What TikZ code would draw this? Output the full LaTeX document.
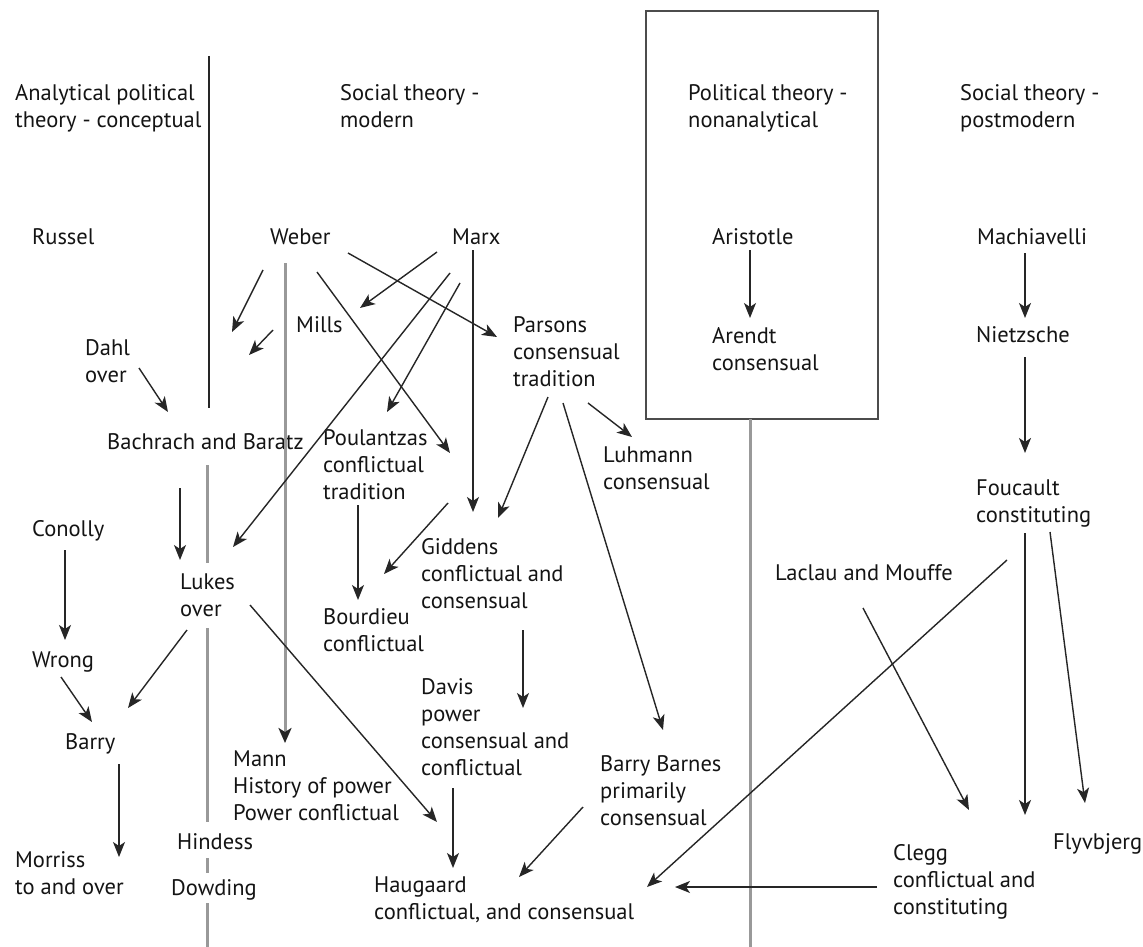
\documentclass[tikz,border=0pt]{standalone}
\usepackage{fontspec}
\setmainfont{PT Sans}
\usetikzlibrary{arrows.meta}
\begin{document}
\begin{tikzpicture}[x=1pt,y=-1pt,
  font=\fontsize{22.5}{27}\selectfont,
  lbl/.style={anchor=north west,inner sep=0pt,align=left,yshift=8.5pt,text=black!92},
  link/.style={line width=1.4pt,black!85,-{Stealth[length=15pt,width=12pt,inset=4pt]}},
  rule/.style={line width=3pt,black!40},
  frame/.style={line width=2pt,black!70}]
\fill[white] (0,0) rectangle (1143,947);
\useasboundingbox (0,0) rectangle (1143,947);

% column headings
\node[lbl] (hA) at (15,93)  {Analytical political\\theory - conceptual};
\node[lbl] (hB) at (340,93) {Social theory -\\modern};
\node[lbl] (hC) at (688,93) {Political theory -\\nonanalytical};
\node[lbl] (hD) at (960,93) {Social theory -\\postmodern};

% thinkers
\node[lbl] (russel)      at (32,237)  {Russel};
\node[lbl] (weber)       at (270,237) {Weber};
\node[lbl] (marx)        at (452,237) {Marx};
\node[lbl] (aristotle)   at (712,237) {Aristotle};
\node[lbl] (machiavelli) at (977,237) {Machiavelli};
\node[lbl] (mills)       at (296,325) {Mills};
\node[lbl] (parsons)     at (513,325) {Parsons\\consensual\\tradition};
\node[lbl] (arendt)      at (712,336) {Arendt\\consensual};
\node[lbl] (nietzsche)   at (976,335) {Nietzsche};
\node[lbl] (dahl)        at (85,348)  {Dahl\\over};
\node[lbl] (bachrach)    at (107,442) {Bachrach and Baratz};
\node[lbl] (poulantzas)  at (323,438) {Poulantzas\\conflictual\\tradition};
\node[lbl] (luhmann)     at (603,455) {Luhmann\\consensual};
\node[lbl] (foucault)    at (976,488) {Foucault\\constituting};
\node[lbl] (conolly)     at (32,529)  {Conolly};
\node[lbl] (giddens)     at (421,547) {Giddens\\conflictual and\\consensual};
\node[lbl] (laclau)      at (775,573) {Laclau and Mouffe};
\node[lbl] (lukes)       at (180,582) {Lukes\\over};
\node[lbl] (bourdieu)    at (323,617) {Bourdieu\\conflictual};
\node[lbl] (wrong)       at (32,660)  {Wrong};
\node[lbl] (davis)       at (421,687) {Davis\\power\\consensual and\\conflictual};
\node[lbl] (barry)       at (65,742)  {Barry};
\node[lbl] (mann)        at (233,759) {Mann\\History of power\\Power conflictual};
\node[lbl] (barnes)      at (600,764) {Barry Barnes\\primarily\\consensual};
\node[lbl] (hindess)     at (177,842) {Hindess};
\node[lbl] (flyvbjerg)   at (1053,842) {Flyvbjerg};
\node[lbl] (morriss)     at (15,860)  {Morriss\\to and over};
\node[lbl] (clegg)       at (893,853) {Clegg\\conflictual and\\constituting};
\node[lbl] (dowding)     at (171,888) {Dowding};
\node[lbl] (haugaard)    at (374,885) {Haugaard\\conflictual, and consensual};

% frame round the nonanalytical column and the dividing rules
\draw[frame] (646,11) rectangle (878,419);
\coordinate (boxfoot) at (750,419);
\coordinate (pagefoot) at (750,947);
\draw[rule] (boxfoot) -- (pagefoot);

\coordinate (divtop) at (209,56);
\coordinate (divend) at (209,408);
\draw[line width=1.5pt,black!85] (divtop) -- (divend);

\coordinate (g1) at (207,465); \coordinate (g2) at (207,563);
\coordinate (g3) at (207,628); \coordinate (g4) at (207,822);
\coordinate (g5) at (207,858); \coordinate (g6) at (207,873);
\coordinate (g7) at (207,903); \coordinate (g8) at (207,947);
\draw[rule] (g1) -- (g2) (g3) -- (g4) (g5) -- (g6) (g7) -- (g8);

% Weber to Mann, grey rule with an arrow
\coordinate (weber-m) at (285,263);
\coordinate (mann-in) at (285,743);
\draw[rule,-{Stealth[length=15pt,width=13pt,inset=4pt,color=black!85]}] (weber-m) -- (mann-in);

% connector end points
\coordinate (w1a) at (263,270); \coordinate (w1b) at (232,332);
\coordinate (w2a) at (273,330); \coordinate (w2b) at (249,355);
\coordinate (weber-p) at (348,253); \coordinate (parsons-in) at (497,337);
\coordinate (marx-m) at (437,252);  \coordinate (mills-in) at (360,308);
\coordinate (marx-l) at (450,273);  \coordinate (lukes-in1) at (233,547);
\coordinate (marx-p) at (460,283);  \coordinate (poul-in) at (387,412);
\coordinate (weber-g) at (317,272); \coordinate (giddens-in1) at (450,453);
\coordinate (marx-g) at (473,250);  \coordinate (giddens-in2) at (473,512);
\coordinate (pars-g) at (548,397);  \coordinate (giddens-in3) at (498,518);
\coordinate (pars-b) at (563,403);  \coordinate (barnes-in) at (663,730);
\coordinate (pars-l) at (588,403);  \coordinate (luhmann-in) at (632,437);
\coordinate (gidd-b) at (448,503);  \coordinate (bourdieu-in1) at (384,574);
\coordinate (poul-b) at (358,505);  \coordinate (bourdieu-in2) at (358,600);
\coordinate (gidd-d) at (523,630);  \coordinate (davis-in) at (523,708);
\coordinate (davis-h) at (453,788); \coordinate (haug-in1) at (453,868);
\coordinate (lukes-h) at (250,605); \coordinate (haug-in2) at (437,822);
\coordinate (barnes-h) at (583,807);\coordinate (haug-in3) at (519,877);
\coordinate (fouc-h) at (1007,560); \coordinate (haug-in4) at (647,887);
\coordinate (clegg-h) at (877,887); \coordinate (haug-in5) at (675,887);
\coordinate (laclau-c) at (863,608);\coordinate (clegg-in1) at (969,810);
\coordinate (fouc-c) at (1025,533); \coordinate (clegg-in2) at (1025,815);
\coordinate (fouc-f) at (1050,532); \coordinate (flyv-in) at (1085,803);
\coordinate (nietz-f) at (1025,357);\coordinate (fouc-in) at (1025,453);
\coordinate (mach-n) at (1025,253); \coordinate (nietz-in) at (1025,318);
\coordinate (arist-a) at (750,250); \coordinate (arendt-in) at (750,318);
\coordinate (lukes-b) at (187,630); \coordinate (barry-in1) at (128,708);
\coordinate (wrong-b) at (61,677);  \coordinate (barry-in2) at (92,722);
\coordinate (conolly-w) at (65,550);\coordinate (wrong-in) at (65,640);
\coordinate (barry-m) at (119,764); \coordinate (morriss-in) at (119,857);
\coordinate (bach-l) at (180,488);  \coordinate (lukes-in2) at (180,560);
\coordinate (dahl-b) at (139,368);  \coordinate (bach-in) at (168,412);

% influences
\draw[link] (w1a) -- (w1b);
\draw[link] (w2a) -- (w2b);
\draw[link] (weber-p) -- (parsons-in);
\draw[link] (marx-m) -- (mills-in);
\draw[link] (marx-l) -- (lukes-in1);
\draw[link] (marx-p) -- (poul-in);
\draw[link] (weber-g) -- (giddens-in1);
\draw[link] (marx-g) -- (giddens-in2);
\draw[link] (pars-g) -- (giddens-in3);
\draw[link] (pars-b) -- (barnes-in);
\draw[link] (pars-l) -- (luhmann-in);
\draw[link] (gidd-b) -- (bourdieu-in1);
\draw[link] (poul-b) -- (bourdieu-in2);
\draw[link] (gidd-d) -- (davis-in);
\draw[link] (davis-h) -- (haug-in1);
\draw[link] (lukes-h) -- (haug-in2);
\draw[link] (barnes-h) -- (haug-in3);
\draw[link] (fouc-h) -- (haug-in4);
\draw[link] (clegg-h) -- (haug-in5);
\draw[link] (laclau-c) -- (clegg-in1);
\draw[link] (fouc-c) -- (clegg-in2);
\draw[link] (fouc-f) -- (flyv-in);
\draw[link] (nietz-f) -- (fouc-in);
\draw[link] (mach-n) -- (nietz-in);
\draw[link] (arist-a) -- (arendt-in);
\draw[link] (lukes-b) -- (barry-in1);
\draw[link] (wrong-b) -- (barry-in2);
\draw[link] (conolly-w) -- (wrong-in);
\draw[link] (barry-m) -- (morriss-in);
\draw[link] (bach-l) -- (lukes-in2);
\draw[link] (dahl-b) -- (bach-in);
\end{tikzpicture}
\end{document}
